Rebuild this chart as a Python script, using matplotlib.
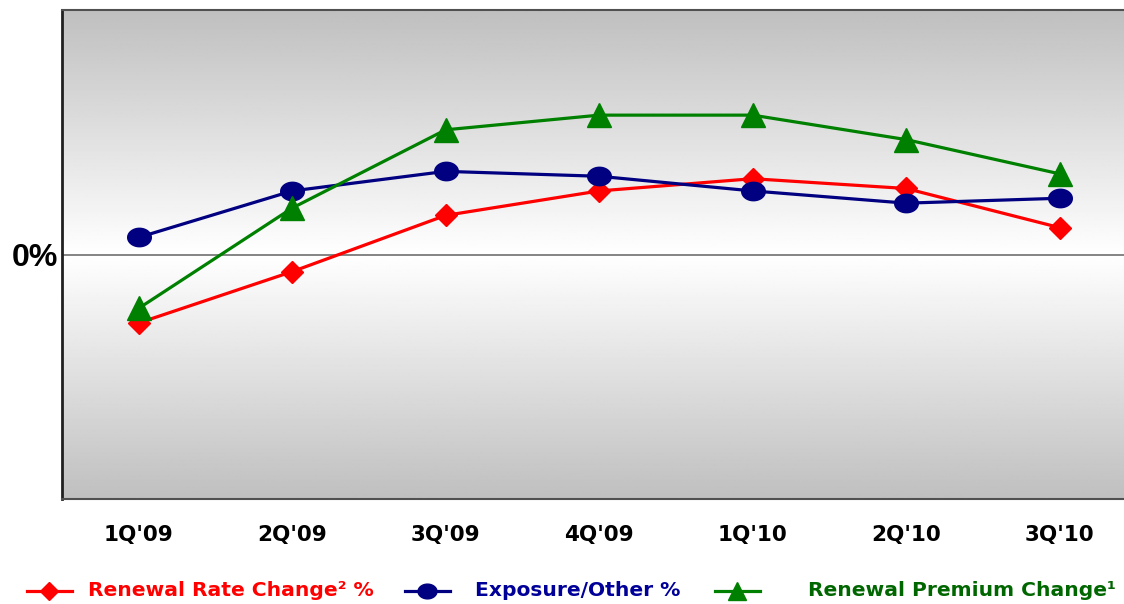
import numpy as np
import matplotlib
matplotlib.use("Agg")
import matplotlib.pyplot as plt
from matplotlib.path import Path

plt.rcParams['font.family'] = ['Liberation Sans', 'DejaVu Sans']

# Quarterly change, percent (only the zero line is labelled)
quarters = ["1Q'09", "2Q'09", "3Q'09", "4Q'09", "1Q'10", "2Q'10", "3Q'10"]
rate_change = [-2.8, -0.7, 1.6, 2.6, 3.1, 2.7, 1.1]
exposure_other = [0.7, 2.6, 3.4, 3.2, 2.6, 2.1, 2.3]
premium_change = [-2.2, 1.9, 5.1, 5.7, 5.7, 4.7, 3.3]

labels = ["Renewal Rate Change\u00b2 %", "Exposure/Other %", "Renewal Premium Change\u00b9"]
line_colors = ["#ff0000", "#000080", "#008000"]
text_colors = ["#ff0000", "#000099", "#006600"]

# slightly flattened circle for the exposure series
t = np.linspace(0, 2 * np.pi, 60)
ellipse = Path(np.column_stack([np.cos(t), 0.78 * np.sin(t)]), closed=True)

fig = plt.figure(figsize=(11.24, 6.04), dpi=100)
ax = fig.add_axes([62 / 1124, 1 - 499 / 604, 1 - 62 / 1124, 489 / 604])

ymin, ymax = -10, 10
x = np.arange(len(quarters))
ax.set_xlim(-0.5, 6.42)
ax.set_ylim(ymin, ymax)

# background: grey at the edges fading to white at 0%
yy = np.linspace(ymax, ymin, 400)
shade = 0.75 + 0.25 * (1 - np.abs(yy) / ymax)
grad = np.tile(shade[:, None], (1, 2))
ax.imshow(grad, cmap='gray', vmin=0, vmax=1, aspect='auto',
          extent=[-0.5, 6.42, ymin, ymax], zorder=0)

ax.axhline(0, color='#707070', lw=1.2, zorder=1)

l1, = ax.plot(x, rate_change, color=line_colors[0], lw=2.3, marker='D',
              markersize=11, zorder=3)
l2, = ax.plot(x, exposure_other, color=line_colors[1], lw=2.3, marker=ellipse,
              markersize=17, zorder=3)
l3, = ax.plot(x, premium_change, color=line_colors[2], lw=2.3, marker='^',
              markersize=17, zorder=3)

ax.set_xticks(x)
ax.set_xticklabels(quarters, fontsize=15.5, fontweight='bold', family='DejaVu Sans')
ax.tick_params(axis='x', length=0, pad=19)
ax.set_yticks([0])
ax.set_yticklabels(['0%'], fontsize=23, fontweight='bold')
ax.tick_params(axis='y', length=0, pad=3)

for side in ['top', 'bottom']:
    ax.spines[side].set_color('#505050')
    ax.spines[side].set_linewidth(1.5)
ax.spines['right'].set_visible(False)
ax.spines['left'].set_color('#202020')
ax.spines['left'].set_linewidth(2)

# legend entries laid out along the bottom
legend_pos = [(20 / 1124, 88 / 1124), (398 / 1124, 475 / 1124), (708 / 1124, 808 / 1124)]
for line, label, tc, (hx, tx) in zip([l1, l2, l3], labels, text_colors, legend_pos):
    ln = plt.Line2D([hx + 0.006, hx + 0.046], [1 - 591 / 604] * 2, transform=fig.transFigure,
                    color=line.get_color(), lw=2.3)
    mk = plt.Line2D([hx + 0.026], [1 - 591 / 604], transform=fig.transFigure,
                    color=line.get_color(), marker=line.get_marker(),
                    markersize=line.get_markersize() * 0.8, lw=0)
    fig.lines.extend([ln, mk])
    fig.text(tx, 1 - 591 / 604, label, color=tc, fontsize=14.6, fontweight='bold',
             family='DejaVu Sans', va='center', ha='left')

fig.savefig('out.png', dpi=100)
